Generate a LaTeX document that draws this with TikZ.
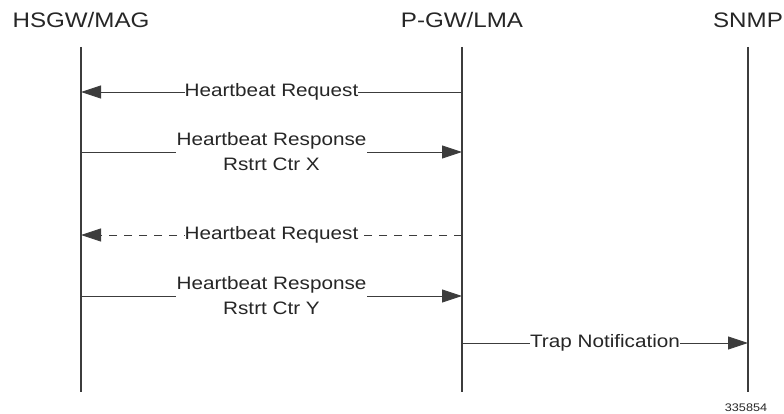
\documentclass[tikz,border=0pt]{standalone}
\usepackage{fontspec}
\setmainfont{Liberation Sans}[FakeStretch=1.15]
\usetikzlibrary{arrows.meta}
\definecolor{linegray}{HTML}{3C3C3C}
\tikzset{
  x=1pt, y=-1pt,
  head/.style={font=\fontsize{21}{25}\selectfont, text=black!85, inner sep=0pt},
  life/.style={draw=linegray, line width=1.2pt},
  msg/.style={draw=linegray, line width=0.9pt, -{Triangle[length=20pt,width=13pt]}},
  dmsg/.style={msg, dash pattern=on 8pt off 7pt},
  lbl/.style={font=\fontsize{18}{25}\selectfont, text=black!85, fill=white, inner xsep=1pt, inner ysep=2pt, align=center},
  tag/.style={font=\fontsize{11}{13}\selectfont, text=black!85, inner sep=0pt}
}
\begin{document}
\begin{tikzpicture}
\useasboundingbox (0,0) rectangle (784,414);
% heads
\node[head] (hsgw) at (81,20) {HSGW/MAG};
\node[head] (pgw) at (462,20) {P-GW/LMA};
\node[head] (snmp) at (748,20) {SNMP};
% lifeline ends
\coordinate (a1) at (81,47);  \coordinate (a2) at (81,392);
\coordinate (b1) at (462,47); \coordinate (b2) at (462,392);
\coordinate (c1) at (748,47); \coordinate (c2) at (748,392);
\draw[life] (a1) -- (a2);
\draw[life] (b1) -- (b2);
\draw[life] (c1) -- (c2);
% message anchor points
\coordinate (m1a) at (81,92);  \coordinate (m1b) at (462,92);
\coordinate (m2a) at (81,152); \coordinate (m2b) at (462,152);
\coordinate (m3a) at (81,235); \coordinate (m3b) at (462,235);
\coordinate (m4a) at (81,296); \coordinate (m4b) at (462,296);
\coordinate (m5a) at (462,343); \coordinate (m5b) at (748,343);
% messages
\draw[msg] (m1b) -- (m1a) node[lbl, midway, inner xsep=0pt] (l1) {Heartbeat Request};
\draw[msg] (m2a) -- (m2b) node[lbl, midway] (l2) {Heartbeat Response\\Rstrt Ctr X};
\draw[dmsg] (m3b) -- (m3a) node[lbl, midway, inner xsep=0pt] (l3) {Heartbeat Request};
\draw[msg] (m4a) -- (m4b) node[lbl, midway] (l4) {Heartbeat Response\\Rstrt Ctr Y};
\draw[msg] (m5a) -- (m5b) node[lbl, midway, inner xsep=0pt] (l5) {Trap Notification};
\node[tag] (id) at (746,408) {335854};
\end{tikzpicture}
\end{document}
